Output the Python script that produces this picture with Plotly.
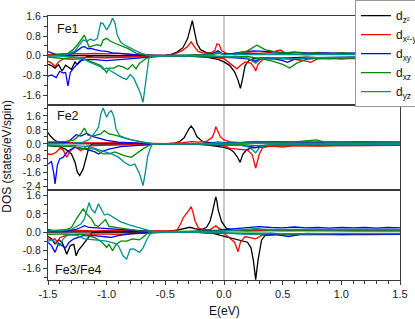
import plotly.graph_objects as go

# ---------------- data ----------------
ORBITAL_NAMES = ["d<sub>z²</sub>", "d<sub>x²-y²</sub>", "d<sub>xy</sub>", "d<sub>xz</sub>", "d<sub>yz</sub>"]
ORBITAL_COLORS = ["#000000", "#ff0000", "#0000ff", "#008a00", "#009090"]
PANEL_LABELS = ["Fe1", "Fe2", "Fe3/Fe4"]
X_TICKVALS = [-1.5, -1.0, -0.5, 0.0, 0.5, 1.0, 1.5]
X_TICKTEXT = ["-1.5", "-1.0", "-0.5", "0.0", "0.5", "1.0", "1.5"]
Y_TICKVALS = [[-1.6, -0.8, 0.0, 0.8, 1.6],
              [-2.4, -1.6, -0.8, 0.0, 0.8, 1.6],
              [-1.6, -0.8, 0.0, 0.8, 1.6]]
Y_TICKTEXT = [["-1.6", "-0.8", "0.0", "0.8", "1.6"],
              ["-2.4", "-1.6", "-0.8", "0.0", "0.8", "1.6"],
              ["-1.6", "-0.8", "0.0", "0.8", "1.6"]]
Y_RANGES = [[-1.96, 1.62], [-2.56, 2.16], [-2.12, 1.81]]

# ---- Fe1 ----
FE1_Z2_UP = [(-1.5,0.03),(-1.3,0.02),(-1.0,0.0),(-0.6,0.0),(-0.5,0.02),(-0.45,0.06),(-0.4,0.15),(-0.35,0.33),(-0.31,0.7),(-0.29,1.05),(-0.27,1.43),(-0.25,0.95),(-0.23,0.5),(-0.2,0.25),(-0.15,0.13),(-0.1,0.1),(-0.05,0.12),(0,0.08),(0.1,0.05),(0.2,0.1),(0.3,0.06),(0.5,0.08),(0.7,0.05),(0.9,0.08),(1.1,0.06),(1.3,0.07),(1.5,0.05)]
FE1_Z2_DN = [(-1.5,-0.35),(-1.47,-0.4),(-1.44,-0.5),(-1.41,-0.36),(-1.38,-0.62),(-1.35,-0.38),(-1.3,-0.55),(-1.27,-0.25),(-1.25,-0.36),(-1.21,-0.16),(-1.17,-0.03),(-1.1,0.0),(-0.3,0.0),(-0.15,-0.05),(-0.05,-0.15),(0,-0.25),(0.05,-0.4),(0.09,-0.65),(0.12,-1.0),(0.14,-1.33),(0.16,-0.9),(0.18,-0.4),(0.21,-0.2),(0.25,-0.12),(0.35,-0.08),(0.5,-0.1),(0.7,-0.06),(0.9,-0.1),(1.1,-0.07),(1.3,-0.1),(1.5,-0.08)]
FE1_X2_UP = [(-1.5,0.05),(-1.4,0.08),(-1.3,0.1),(-1.2,0.08),(-1.1,0.1),(-1.0,0.08),(-0.9,0.1),(-0.8,0.06),(-0.7,0.05),(-0.6,0.02),(-0.5,0.02),(-0.42,0.08),(-0.36,0.2),(-0.31,0.38),(-0.28,0.57),(-0.25,0.35),(-0.22,0.18),(-0.18,0.12),(-0.12,0.1),(-0.08,0.2),(-0.06,0.49),(-0.04,0.45),(-0.02,0.2),(0.02,0.1),(0.1,0.08),(0.2,0.12),(0.3,0.1),(0.4,0.14),(0.48,0.24),(0.52,0.12),(0.6,0.15),(0.7,0.1),(0.8,0.14),(0.9,0.1),(1.0,0.12),(1.1,0.08),(1.2,0.12),(1.3,0.1),(1.4,0.12),(1.5,0.08)]
FE1_X2_DN = [(-1.5,-0.22),(-1.47,-0.3),(-1.44,-0.43),(-1.41,-0.25),(-1.37,-0.12),(-1.3,-0.08),(-1.2,-0.06),(-1.0,-0.08),(-0.8,-0.05),(-0.6,-0.02),(-0.3,-0.02),(-0.1,-0.06),(0,-0.12),(0.05,-0.3),(0.09,-0.45),(0.11,-0.53),(0.14,-0.4),(0.18,-0.25),(0.23,-0.3),(0.26,-0.5),(0.27,-0.62),(0.29,-0.35),(0.33,-0.15),(0.4,-0.1),(0.5,-0.12),(0.6,-0.15),(0.7,-0.22),(0.74,-0.27),(0.8,-0.12),(0.9,-0.1),(1.0,-0.14),(1.1,-0.1),(1.2,-0.12),(1.3,-0.08),(1.4,-0.12),(1.5,-0.1)]
FE1_XY_UP = [(-1.5,0.17),(-1.47,0.12),(-1.43,0.05),(-1.38,0.04),(-1.32,0.06),(-1.28,0.12),(-1.24,0.25),(-1.21,0.35),(-1.19,0.37),(-1.16,0.28),(-1.13,0.3),(-1.1,0.25),(-1.05,0.2),(-1.0,0.18),(-0.95,0.12),(-0.85,0.08),(-0.75,0.05),(-0.6,0.02),(-0.3,0.02),(-0.1,0.08),(-0.05,0.2),(-0.02,0.1),(0.05,0.08),(0.15,0.15),(0.25,0.2),(0.35,0.18),(0.45,0.15),(0.55,0.12),(0.65,0.14),(0.75,0.1),(0.85,0.12),(1.0,0.1),(1.15,0.12),(1.3,0.1),(1.5,0.1)]
FE1_XY_DN = [(-1.5,-0.83),(-1.47,-0.78),(-1.43,-0.89),(-1.4,-0.63),(-1.37,-0.7),(-1.35,-0.68),(-1.33,-1.23),(-1.31,-0.68),(-1.29,-0.55),(-1.26,-0.36),(-1.23,-0.22),(-1.19,-0.16),(-1.1,-0.16),(-1.0,-0.2),(-0.9,-0.16),(-0.8,-0.12),(-0.73,-0.09),(-0.65,-0.03),(-0.5,0.0),(-0.2,-0.02),(0,-0.05),(0.1,-0.08),(0.2,-0.12),(0.27,-0.22),(0.32,-0.1),(0.42,-0.12),(0.5,-0.2),(0.54,-0.27),(0.6,-0.15),(0.7,-0.1),(0.85,-0.08),(1.0,-0.06),(1.2,-0.05),(1.5,-0.05)]
FE1_XZ_UP = [(-1.5,0.0),(-1.4,0.05),(-1.33,0.1),(-1.29,0.24),(-1.25,0.44),(-1.21,0.71),(-1.19,0.84),(-1.17,0.6),(-1.15,0.35),(-1.12,0.4),(-1.08,0.45),(-1.05,0.4),(-1.03,0.64),(-1.0,0.71),(-0.97,0.6),(-0.93,0.51),(-0.88,0.4),(-0.82,0.3),(-0.75,0.11),(-0.68,0.04),(-0.6,0.01),(-0.3,0.02),(-0.1,0.05),(-0.05,0.1),(0,0.06),(0.1,0.08),(0.2,0.2),(0.28,0.43),(0.35,0.25),(0.42,0.18),(0.5,0.12),(0.6,0.15),(0.7,0.1),(0.8,0.12),(0.9,0.08),(1.0,0.12),(1.1,0.1),(1.2,0.13),(1.3,0.09),(1.4,0.12),(1.5,0.1)]
FE1_XZ_DN = [(-1.5,-0.05),(-1.4,-0.1),(-1.3,-0.15),(-1.2,-0.12),(-1.15,-0.2),(-1.1,-0.3),(-1.05,-0.4),(-1.03,-0.49),(-1.0,-0.69),(-0.98,-0.5),(-0.94,-0.5),(-0.9,-0.4),(-0.86,-0.45),(-0.82,-0.56),(-0.78,-0.36),(-0.75,-0.53),(-0.72,-0.3),(-0.66,-0.1),(-0.6,-0.03),(-0.4,0.0),(0,-0.03),(0.1,-0.05),(0.2,-0.03),(0.3,-0.1),(0.4,-0.2),(0.5,-0.35),(0.56,-0.5),(0.62,-0.3),(0.7,-0.15),(0.8,-0.1),(0.9,-0.12),(1.0,-0.08),(1.2,-0.1),(1.5,-0.08)]
FE1_YZ_UP = [(-1.5,0.0),(-1.4,0.02),(-1.32,0.08),(-1.27,0.2),(-1.23,0.45),(-1.2,0.65),(-1.17,0.58),(-1.14,0.68),(-1.11,0.62),(-1.08,0.7),(-1.05,1.35),(-1.03,1.3),(-1.0,1.05),(-0.97,1.3),(-0.95,1.53),(-0.93,1.35),(-0.91,0.85),(-0.88,0.55),(-0.85,0.45),(-0.8,0.32),(-0.75,0.2),(-0.7,0.1),(-0.65,0.03),(-0.6,0.0),(-0.3,0.0),(-0.1,0.05),(-0.05,0.15),(0,0.05),(0.2,0.05),(0.3,0.08),(0.5,0.05),(0.8,0.06),(1.1,0.05),(1.5,0.05)]
FE1_YZ_DN = [(-1.5,0.0),(-1.3,-0.03),(-1.2,-0.1),(-1.16,-0.23),(-1.1,-0.35),(-1.05,-0.45),(-1.03,-0.56),(-1.0,-0.5),(-0.96,-0.63),(-0.92,-0.75),(-0.87,-0.89),(-0.83,-0.96),(-0.8,-0.76),(-0.77,-0.9),(-0.74,-1.2),(-0.72,-1.43),(-0.69,-1.89),(-0.67,-1.2),(-0.65,-0.3),(-0.64,-0.09),(-0.62,0.0),(-0.1,0.0),(0,-0.05),(0.1,-0.05),(0.2,-0.1),(0.27,-0.3),(0.32,-0.1),(0.4,-0.08),(0.5,-0.1),(0.6,-0.12),(0.7,-0.08),(0.9,-0.06),(1.2,-0.05),(1.5,-0.05)]

# ---- Fe2 ----
FE2_Z2_UP = [(-1.5,0.65),(-1.48,0.45),(-1.45,0.25),(-1.42,0.12),(-1.38,0.05),(-1.3,0.02),(-1.0,0.0),(-0.5,0.0),(-0.42,0.05),(-0.38,0.13),(-0.34,0.35),(-0.32,0.61),(-0.3,0.85),(-0.28,1.02),(-0.26,0.85),(-0.23,0.41),(-0.2,0.22),(-0.18,0.13),(-0.12,0.08),(-0.05,0.08),(0,0.05),(0.2,0.04),(0.5,0.05),(0.8,0.04),(1.1,0.05),(1.5,0.04)]
FE2_Z2_DN = [(-1.5,-0.1),(-1.4,-0.15),(-1.35,-0.3),(-1.3,-0.57),(-1.27,-1.04),(-1.25,-1.61),(-1.23,-1.8),(-1.2,-1.42),(-1.17,-0.66),(-1.15,-0.15),(-1.12,0.0),(-0.3,0.0),(-0.15,-0.05),(-0.05,-0.12),(0,-0.19),(0.05,-0.3),(0.08,-0.44),(0.11,-0.7),(0.137,-1.04),(0.16,-0.6),(0.19,-0.35),(0.23,-0.22),(0.3,-0.2),(0.4,-0.12),(0.5,-0.1),(0.7,-0.08),(0.9,-0.1),(1.1,-0.07),(1.3,-0.08),(1.5,-0.06)]
FE2_X2_UP = [(-1.5,0.05),(-1.3,0.08),(-1.1,0.06),(-0.9,0.08),(-0.7,0.05),(-0.5,0.02),(-0.35,0.08),(-0.28,0.13),(-0.22,0.1),(-0.15,0.15),(-0.1,0.38),(-0.08,0.7),(-0.07,0.98),(-0.05,0.7),(-0.03,0.4),(0,0.23),(0.05,0.12),(0.15,0.08),(0.3,0.1),(0.45,0.12),(0.6,0.08),(0.8,0.1),(1.0,0.08),(1.2,0.1),(1.5,0.08)]
FE2_X2_DN = [(-1.5,-0.57),(-1.47,-0.6),(-1.43,-0.47),(-1.4,-0.25),(-1.37,-0.35),(-1.34,-0.76),(-1.31,-0.4),(-1.27,-0.15),(-1.22,-0.38),(-1.17,-0.12),(-1.05,-0.08),(-0.9,-0.05),(-0.6,-0.02),(-0.2,-0.02),(0,-0.1),(0.05,-0.25),(0.12,-0.28),(0.2,-0.35),(0.24,-0.6),(0.27,-1.38),(0.3,-0.6),(0.33,-0.2),(0.4,-0.12),(0.5,-0.18),(0.6,-0.1),(0.8,-0.12),(1.0,-0.08),(1.2,-0.1),(1.5,-0.08)]
FE2_XY_UP = [(-1.5,0.1),(-1.4,0.05),(-1.33,0.1),(-1.29,0.38),(-1.26,0.53),(-1.22,0.45),(-1.17,0.61),(-1.13,0.45),(-1.07,0.35),(-1.0,0.2),(-0.9,0.1),(-0.75,0.03),(-0.6,0.0),(-0.2,0.02),(-0.05,0.1),(0.05,0.05),(0.2,0.1),(0.4,0.12),(0.6,0.1),(0.8,0.12),(1.0,0.1),(1.2,0.12),(1.5,0.1)]
FE2_XY_DN = [(-1.5,-1.14),(-1.47,-1.0),(-1.45,-1.7),(-1.44,-2.27),(-1.42,-1.2),(-1.4,-0.85),(-1.37,-0.75),(-1.33,-0.4),(-1.27,-0.2),(-1.18,-0.3),(-1.1,-0.45),(-1.07,-0.57),(-1.03,-0.4),(-0.98,-0.3),(-0.88,-0.15),(-0.75,-0.08),(-0.6,-0.02),(-0.2,-0.02),(0,-0.05),(0.15,-0.08),(0.27,-0.2),(0.35,-0.08),(0.5,-0.06),(0.8,-0.05),(1.1,-0.06),(1.5,-0.05)]
FE2_XZ_UP = [(-1.5,0.1),(-1.35,0.15),(-1.28,0.22),(-1.22,0.57),(-1.19,0.91),(-1.16,0.5),(-1.12,0.45),(-1.05,0.57),(-1.02,0.76),(-0.98,0.57),(-0.93,0.5),(-0.86,0.35),(-0.78,0.22),(-0.7,0.12),(-0.62,0.03),(-0.55,0.0),(-0.2,0.02),(0,0.05),(0.1,0.05),(0.27,0.15),(0.4,0.1),(0.6,0.12),(0.79,0.23),(0.85,0.12),(1.0,0.1),(1.2,0.12),(1.5,0.1)]
FE2_XZ_DN = [(-1.5,-0.1),(-1.3,-0.15),(-1.2,-0.25),(-1.1,-0.3),(-1.03,-0.57),(-0.98,-0.57),(-0.93,-0.45),(-0.85,-0.66),(-0.79,-0.76),(-0.74,-0.5),(-0.69,-0.28),(-0.64,-0.08),(-0.6,0.0),(-0.3,0.0),(0,-0.03),(0.2,-0.05),(0.27,-0.1),(0.4,-0.05),(0.7,-0.06),(1.0,-0.05),(1.5,-0.05)]
FE2_YZ_UP = [(-1.5,0.0),(-1.3,0.03),(-1.2,0.1),(-1.15,0.25),(-1.1,0.66),(-1.07,0.95),(-1.05,1.7),(-1.03,2.05),(-1.0,1.52),(-0.98,1.8),(-0.96,1.89),(-0.94,1.6),(-0.92,0.85),(-0.89,0.47),(-0.83,0.3),(-0.76,0.18),(-0.68,0.08),(-0.6,0.02),(-0.5,0.0),(-0.1,0.0),(-0.05,0.1),(0,0.05),(0.2,0.04),(0.5,0.05),(1.0,0.04),(1.5,0.04)]
FE2_YZ_DN = [(-1.5,-0.05),(-1.3,-0.08),(-1.15,-0.15),(-1.05,-0.35),(-0.96,-0.57),(-0.9,-0.75),(-0.85,-1.04),(-0.8,-1.23),(-0.76,-1.15),(-0.72,-1.7),(-0.69,-2.37),(-0.67,-1.6),(-0.65,-0.7),(-0.63,-0.28),(-0.61,0.0),(-0.1,0.0),(0,-0.05),(0.15,-0.08),(0.22,-0.2),(0.27,-0.5),(0.31,-0.15),(0.4,-0.05),(0.7,-0.04),(1.0,-0.05),(1.5,-0.04)]

# ---- Fe3/Fe4 ----
FE3_Z2_UP = [(-1.5,0.0),(-1.0,0.0),(-0.5,0.02),(-0.4,0.08),(-0.33,0.15),(-0.29,0.21),(-0.25,0.15),(-0.2,0.1),(-0.15,0.2),(-0.12,0.46),(-0.1,0.85),(-0.08,1.3),(-0.07,1.55),(-0.06,1.35),(-0.05,0.98),(-0.02,0.46),(0.02,0.16),(0.08,0.08),(0.2,0.05),(0.4,0.06),(0.7,0.05),(1.0,0.06),(1.5,0.05)]
FE3_Z2_DN = [(-1.5,-0.2),(-1.47,-0.3),(-1.44,-0.53),(-1.41,-0.35),(-1.38,-0.45),(-1.34,-0.98),(-1.31,-0.6),(-1.28,-0.55),(-1.26,-1.05),(-1.24,-0.8),(-1.21,-0.61),(-1.18,-0.4),(-1.15,-0.2),(-1.12,0.0),(-0.3,0.0),(-0.1,-0.05),(0.02,-0.21),(0.08,-0.28),(0.14,-0.36),(0.2,-0.45),(0.23,-0.7),(0.25,-1.24),(0.27,-2.1),(0.29,-1.24),(0.32,-0.36),(0.35,-0.15),(0.45,-0.12),(0.6,-0.1),(0.8,-0.12),(1.0,-0.1),(1.2,-0.12),(1.5,-0.1)]
FE3_X2_UP = [(-1.5,0.05),(-1.3,0.08),(-1.1,0.05),(-0.9,0.08),(-0.7,0.06),(-0.5,0.03),(-0.43,0.05),(-0.4,0.09),(-0.37,0.35),(-0.35,0.61),(-0.32,0.8),(-0.3,0.95),(-0.28,1.12),(-0.26,0.8),(-0.25,0.53),(-0.22,0.2),(-0.18,0.1),(-0.12,0.1),(-0.07,0.27),(-0.04,0.15),(0,0.08),(0.1,0.06),(0.3,0.08),(0.5,0.06),(0.8,0.08),(1.1,0.06),(1.5,0.07)]
FE3_X2_DN = [(-1.5,-0.3),(-1.47,-0.35),(-1.44,-0.3),(-1.42,-0.46),(-1.4,-0.25),(-1.35,-0.15),(-1.25,-0.1),(-1.1,-0.08),(-0.9,-0.1),(-0.7,-0.05),(-0.5,-0.02),(-0.2,-0.02),(0,-0.06),(0.05,-0.28),(0.09,-0.45),(0.12,-0.87),(0.14,-0.45),(0.18,-0.2),(0.24,-0.25),(0.27,-0.3),(0.32,-0.15),(0.4,-0.1),(0.6,-0.12),(0.8,-0.08),(1.0,-0.12),(1.2,-0.08),(1.5,-0.1)]
FE3_XY_UP = [(-1.5,0.12),(-1.45,0.05),(-1.35,0.04),(-1.27,0.1),(-1.22,0.2),(-1.19,0.28),(-1.15,0.2),(-1.08,0.18),(-1.0,0.15),(-0.9,0.12),(-0.8,0.08),(-0.7,0.05),(-0.6,0.02),(-0.3,0.02),(-0.05,0.08),(0.1,0.15),(0.2,0.2),(0.3,0.24),(0.4,0.2),(0.5,0.18),(0.6,0.22),(0.7,0.18),(0.8,0.2),(0.9,0.17),(1.0,0.2),(1.1,0.18),(1.2,0.2),(1.3,0.17),(1.4,0.2),(1.5,0.18)]
FE3_XY_DN = [(-1.5,-0.46),(-1.47,-0.6),(-1.44,-0.9),(-1.41,-0.5),(-1.38,-0.6),(-1.35,-0.7),(-1.32,-0.45),(-1.28,-0.3),(-1.2,-0.16),(-1.1,-0.16),(-1.0,-0.22),(-0.96,-0.24),(-0.9,-0.16),(-0.8,-0.08),(-0.65,-0.03),(-0.5,0.0),(-0.2,-0.02),(0,-0.05),(0.15,-0.08),(0.3,-0.1),(0.45,-0.12),(0.55,-0.2),(0.65,-0.1),(0.8,-0.08),(1.0,-0.1),(1.2,-0.08),(1.5,-0.1)]
FE3_XZ_UP = [(-1.5,0.05),(-1.35,0.1),(-1.3,0.2),(-1.25,0.65),(-1.2,1.02),(-1.17,0.8),(-1.13,0.58),(-1.1,0.3),(-1.07,0.25),(-1.04,0.4),(-1.01,0.55),(-0.98,0.25),(-0.92,0.2),(-0.83,0.12),(-0.72,0.05),(-0.6,0.02),(-0.3,0.02),(0,0.05),(0.2,0.06),(0.27,0.12),(0.4,0.08),(0.7,0.1),(1.0,0.08),(1.2,0.1),(1.5,0.08)]
FE3_XZ_DN = [(-1.5,-0.1),(-1.35,-0.08),(-1.2,-0.12),(-1.1,-0.25),(-1.04,-0.45),(-1.0,-0.68),(-0.98,-0.55),(-0.95,-0.83),(-0.92,-0.55),(-0.88,-0.4),(-0.83,-0.4),(-0.78,-0.3),(-0.72,-0.35),(-0.69,-0.22),(-0.65,-0.05),(-0.6,0.0),(-0.3,0.0),(0,-0.05),(0.2,-0.06),(0.4,-0.05),(0.55,-0.12),(0.7,-0.06),(1.0,-0.07),(1.5,-0.06)]
FE3_YZ_UP = [(-1.5,0.08),(-1.4,0.05),(-1.3,0.12),(-1.22,0.35),(-1.19,0.58),(-1.17,0.9),(-1.15,1.3),(-1.13,1.0),(-1.1,0.85),(-1.07,1.25),(-1.05,1.02),(-1.02,0.75),(-0.99,0.8),(-0.96,0.7),(-0.93,0.58),(-0.88,0.45),(-0.8,0.3),(-0.72,0.18),(-0.65,0.08),(-0.58,0.02),(-0.5,0.0),(-0.1,0.0),(0,0.05),(0.1,0.08),(0.27,0.15),(0.4,0.1),(0.6,0.12),(0.9,0.1),(1.2,0.12),(1.5,0.1)]
FE3_YZ_DN = [(-1.5,-0.4),(-1.46,-0.35),(-1.43,-0.5),(-1.4,-0.6),(-1.37,-0.3),(-1.33,-0.12),(-1.25,-0.15),(-1.19,-0.3),(-1.1,-0.35),(-1.0,-0.4),(-0.93,-0.5),(-0.9,-0.61),(-0.86,-1.05),(-0.83,-1.2),(-0.8,-0.76),(-0.77,-0.75),(-0.72,-0.9),(-0.69,-0.7),(-0.66,-0.35),(-0.63,-0.1),(-0.6,0.0),(-0.1,0.0),(0,-0.05),(0.2,-0.08),(0.27,-0.12),(0.4,-0.06),(0.7,-0.08),(1.0,-0.06),(1.5,-0.07)]

PANELS = [
    [(FE1_Z2_UP, FE1_Z2_DN), (FE1_X2_UP, FE1_X2_DN), (FE1_XY_UP, FE1_XY_DN), (FE1_XZ_UP, FE1_XZ_DN), (FE1_YZ_UP, FE1_YZ_DN)],
    [(FE2_Z2_UP, FE2_Z2_DN), (FE2_X2_UP, FE2_X2_DN), (FE2_XY_UP, FE2_XY_DN), (FE2_XZ_UP, FE2_XZ_DN), (FE2_YZ_UP, FE2_YZ_DN)],
    [(FE3_Z2_UP, FE3_Z2_DN), (FE3_X2_UP, FE3_X2_DN), (FE3_XY_UP, FE3_XY_DN), (FE3_XZ_UP, FE3_XZ_DN), (FE3_YZ_UP, FE3_YZ_DN)],
]

# ---------------- figure ----------------
FONT = "Liberation Sans, Arial, sans-serif"
AXC = "#3a3a3a"
fig = go.Figure()

for p, panel in enumerate(PANELS):
    xa = "x" if p == 0 else f"x{p+1}"
    ya = "y" if p == 0 else f"y{p+1}"
    for k, (up, dn) in enumerate(panel):
        for j, series in enumerate((up, dn)):
            xs = [e for e, v in series]
            ys = [v for e, v in series]
            fig.add_trace(go.Scatter(
                x=xs, y=ys, mode="lines", xaxis=xa, yaxis=ya,
                line=dict(color=ORBITAL_COLORS[k], width=1.3),
                name=ORBITAL_NAMES[k], legendgroup=ORBITAL_NAMES[k],
                showlegend=(p == 0 and j == 0), hoverinfo="skip"))

domains = [[0.667, 1.0], [0.345, 0.659], [0.0, 0.337]]
for p in range(3):
    xk = "xaxis" if p == 0 else f"xaxis{p+1}"
    yk = "yaxis" if p == 0 else f"yaxis{p+1}"
    ya = "y" if p == 0 else f"y{p+1}"
    bottom = (p == 2)
    xcfg = dict(domain=[0, 1], anchor=ya, range=[-1.5, 1.5], showline=True, mirror=True,
                linecolor=AXC, linewidth=1.3, showgrid=False, zeroline=False,
                showticklabels=bottom, tickvals=X_TICKVALS, ticktext=X_TICKTEXT,
                ticks="outside" if bottom else "", ticklen=4, tickcolor=AXC, tickwidth=1,
                tickfont=dict(family=FONT, size=11, color="#222"))
    if bottom:
        xcfg["minor"] = dict(dtick=0.1, tick0=0, ticks="outside", ticklen=2.5, tickcolor=AXC, tickwidth=1)
    else:
        xcfg["matches"] = "x3"
    fig.layout[xk] = xcfg
    fig.layout[yk] = dict(domain=domains[p], anchor=("x" if p == 0 else f"x{p+1}"), range=Y_RANGES[p],
                          showline=True, mirror=True, linecolor=AXC, linewidth=1.3, showgrid=False,
                          zeroline=False, tickvals=Y_TICKVALS[p], ticktext=Y_TICKTEXT[p],
                          ticks="outside", ticklen=4, tickcolor=AXC, tickwidth=1,
                          minor=dict(dtick=0.4, tick0=0, ticks="outside", ticklen=2.5, tickcolor=AXC, tickwidth=1),
                          tickfont=dict(family=FONT, size=10.5, color="#222"))

fig.add_shape(type="line", xref="x3", yref="paper", x0=0, x1=0, y0=0, y1=1,
              line=dict(color="#b0b0b0", width=1.3), layer="below")

label_pos = [(0.02, 0.951), (0.02, 0.621), (0.015, 0.038)]
for (lx, ly), txt in zip(label_pos, PANEL_LABELS):
    fig.add_annotation(x=lx, y=ly, xref="paper", yref="paper", text=txt, showarrow=False,
                       xanchor="left", yanchor="middle", font=dict(family=FONT, size=12.5, color="#111"))

fig.add_annotation(x=-0.117, y=0.47, xref="paper", yref="paper", text="DOS (states/eV/spin)",
                   textangle=-90, showarrow=False, xanchor="center", yanchor="middle",
                   font=dict(family=FONT, size=12, color="#111"))
fig.add_annotation(x=0.5, y=-0.118, xref="paper", yref="paper", text="E(eV)", showarrow=False,
                   xanchor="center", yanchor="middle", font=dict(family=FONT, size=12, color="#111"))

fig.update_layout(
    width=415, height=319,
    margin=dict(l=48, r=15, t=16, b=39, autoexpand=False),
    paper_bgcolor="white", plot_bgcolor="white",
    showlegend=True,
    legend=dict(x=0.872, y=1.06, xanchor="left", yanchor="top", bgcolor="white",
                bordercolor="#999", borderwidth=1, tracegroupgap=0,
                font=dict(family=FONT, size=12, color="#111"), itemwidth=30),
)

fig.write_html("out.html", config={"displayModeBar": False},
               post_script="document.body.style.margin='0px';document.body.style.overflow='hidden';")
